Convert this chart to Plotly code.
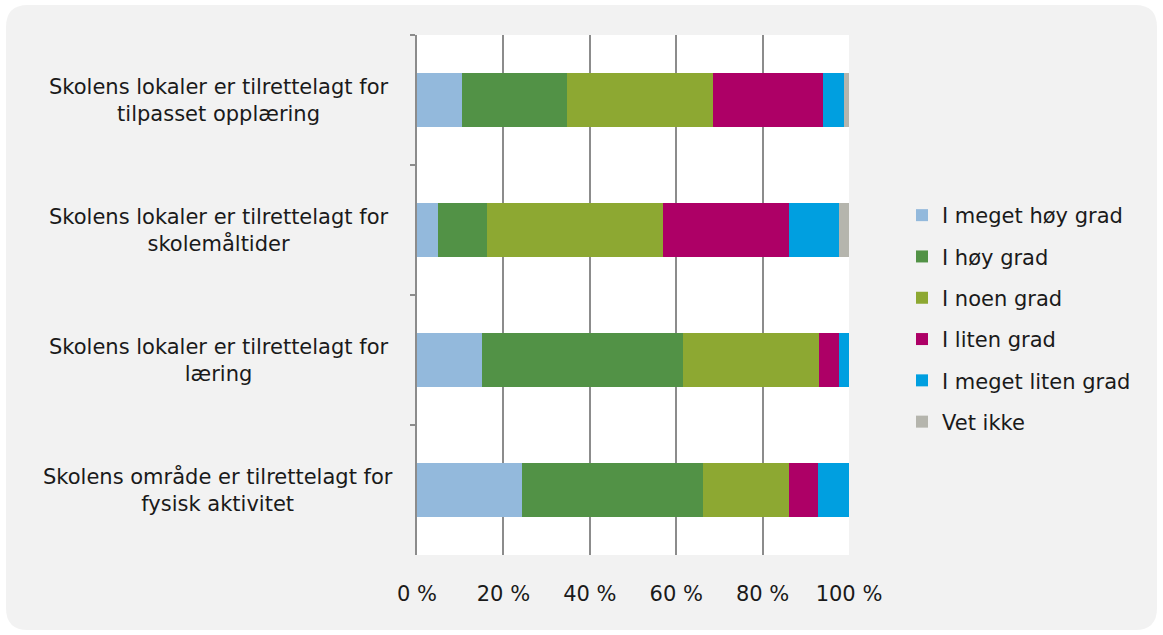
import plotly.graph_objects as go

categories = [
    "Skolens lokaler er tilrettelagt for<br>tilpasset opplæring",
    "Skolens lokaler er tilrettelagt for<br>skolemåltider",
    "Skolens lokaler er tilrettelagt for<br>læring",
    "Skolens område er tilrettelagt for<br>fysisk aktivitet",
]
series_names = ["I meget høy grad", "I høy grad", "I noen grad", "I liten grad",
                "I meget liten grad", "Vet ikke"]
meget_hoy = [10.5, 4.8, 15.1, 24.4]
hoy = [24.3, 11.5, 46.5, 41.8]
noen = [33.7, 40.7, 31.4, 19.8]
liten = [25.4, 29.0, 4.7, 6.9]
meget_liten = [4.9, 11.7, 2.3, 7.1]
vet_ikke = [1.2, 2.3, 0.0, 0.0]
x_ticks = [0, 20, 40, 60, 80, 100]

series_values = [meget_hoy, hoy, noen, liten, meget_liten, vet_ikke]
colors = ["#93b9dc", "#529246", "#8da832", "#ad0066", "#009fe0", "#b5b5ad"]

FONT = "DejaVu Sans"
FS = 21
TXT = "#1a1a1a"

fig = go.Figure()
for name, vals, col in zip(series_names, series_values, colors):
    fig.add_trace(go.Bar(
        y=categories, x=vals, name=name, orientation="h",
        marker=dict(color=col, line=dict(width=0)),
        legendgroup=name,
    ))

W, H = 1163, 635
L, R, T, B = 417, 849, 35, 555
pw, ph = R - L, B - T

def px(xp):
    return (xp - L) / pw

def py(yp):
    return (B - yp) / ph

# rounded background
x0, x1, y0, y1, r = 6, 1157, 5, 630, 22
path = (
    f"M {px(x0 + r)},{py(y0)} L {px(x1 - r)},{py(y0)} "
    f"Q {px(x1)},{py(y0)} {px(x1)},{py(y0 + r)} "
    f"L {px(x1)},{py(y1 - r)} Q {px(x1)},{py(y1)} {px(x1 - r)},{py(y1)} "
    f"L {px(x0 + r)},{py(y1)} Q {px(x0)},{py(y1)} {px(x0)},{py(y1 - r)} "
    f"L {px(x0)},{py(y0 + r)} Q {px(x0)},{py(y0)} {px(x0 + r)},{py(y0)} Z"
)
shapes = [
    dict(type="path", path=path, xref="paper", yref="paper",
         fillcolor="#f2f2f2", line=dict(width=0), layer="below"),
    dict(type="rect", x0=0, x1=1, y0=0, y1=1, xref="paper", yref="paper",
         fillcolor="white", line=dict(width=0), layer="below"),
]

annotations = [
    dict(text=c, x=px(218), y=c, xref="paper", yref="y", xanchor="center",
         yanchor="middle", align="center", showarrow=False,
         font=dict(family=FONT, size=FS, color=TXT))
    for c in categories
]

fig.update_layout(
    width=W, height=H,
    margin=dict(l=L, r=W - R, t=T, b=H - B),
    paper_bgcolor="white", plot_bgcolor="white",
    barmode="stack", bargap=0.59,
    font=dict(family=FONT, size=FS, color=TXT),
    shapes=shapes, annotations=annotations,
    showlegend=True,
    legend=dict(x=px(902), y=py(195), xanchor="left", yanchor="top",
                traceorder="grouped", tracegroupgap=11,
                bgcolor="rgba(0,0,0,0)", font=dict(family=FONT, size=FS, color=TXT),
                itemwidth=30),
    xaxis=dict(range=[0, 100], tickvals=x_ticks, ticktext=[f"{v} %" for v in x_ticks],
               showgrid=True, gridcolor="#8c8c8c", gridwidth=2,
               zeroline=False, showline=False,
               ticks="outside", ticklen=20, tickcolor="rgba(0,0,0,0)",
               tickfont=dict(family=FONT, size=FS, color=TXT)),
    yaxis=dict(categoryorder="array", categoryarray=categories, autorange="reversed",
               showticklabels=False, showgrid=False, zeroline=False,
               showline=True, linecolor="#8c8c8c", linewidth=2,
               ticks="outside", tickson="boundaries", ticklen=5,
               tickcolor="#8c8c8c", tickwidth=2),
)

fig.write_html("out.html")
